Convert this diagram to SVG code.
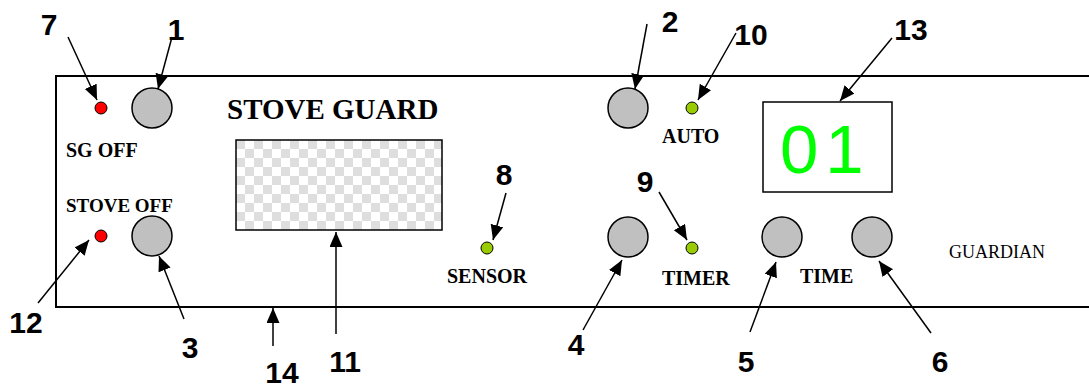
<svg xmlns="http://www.w3.org/2000/svg" width="1089" height="389" viewBox="0 0 1089 389">
<style>
.num{font-family:"Liberation Sans",Arial,sans-serif;font-weight:bold;font-size:30px;fill:#000;text-anchor:middle}
.lbl{font-family:"Liberation Serif","Times New Roman",serif;font-weight:bold;font-size:20px;fill:#000}
.btn{fill:#c0c0c0;stroke:#000;stroke-width:1.5}
.red{fill:#ff0000;stroke:#000;stroke-width:1}
.grn{fill:#99cc00;stroke:#000;stroke-width:1}
.con line{stroke:#000;stroke-width:1.5;marker-end:url(#ah)}
</style>
<defs>
<marker id="ah" markerUnits="userSpaceOnUse" markerWidth="16" markerHeight="14" refX="15" refY="6.5" orient="auto">
<path d="M0,0 L15,6.5 L0,13 z" fill="#000"/>
</marker>
<pattern id="chk" patternUnits="userSpaceOnUse" x="236" y="140" width="18" height="18">
<rect width="18" height="18" fill="#ffffff"/>
<rect width="9" height="9" fill="#dedede"/>
<rect x="9" y="9" width="9" height="9" fill="#dedede"/>
</pattern>
</defs>
<rect width="1089" height="389" fill="#fff"/>
<g id="panel">
<path d="M1089,76 H56 V307 H1089" fill="none" stroke="#000" stroke-width="2"/>
</g>
<g id="title"><text class="lbl" x="227" y="119" style="font-size:29px">STOVE GUARD</text></g>
<g id="n11-screen"><rect x="236" y="140" width="206" height="90" fill="url(#chk)" stroke="#000" stroke-width="1.5"/></g>
<g id="n7-led"><circle class="red" cx="101" cy="108" r="6"/></g>
<g id="n1-button"><circle class="btn" cx="152" cy="108" r="20"/></g>
<g id="sgoff"><text class="lbl" x="66" y="157">SG OFF</text></g>
<g id="stoveoff"><text class="lbl" x="66" y="212" style="font-size:19px">STOVE OFF</text></g>
<g id="n12-led"><circle class="red" cx="101" cy="236" r="6"/></g>
<g id="n3-button"><circle class="btn" cx="152" cy="236" r="20"/></g>
<g id="n8-led"><circle class="grn" cx="487" cy="248" r="6"/><text class="lbl" x="447" y="283">SENSOR</text></g>
<g id="n2-button"><circle class="btn" cx="628" cy="108" r="20"/></g>
<g id="n10-led"><circle class="grn" cx="692" cy="108" r="6"/><text class="lbl" x="662" y="143">AUTO</text></g>
<g id="n4-button"><circle class="btn" cx="628" cy="237" r="20"/></g>
<g id="n9-led"><circle class="grn" cx="692" cy="248" r="6"/><text class="lbl" x="662" y="285">TIMER</text></g>
<g id="n13-display"><rect x="763" y="102" width="129" height="90" fill="#fff" stroke="#000" stroke-width="1.5"/>
<text x="780" y="173" style="font-family:'Liberation Sans',Arial,sans-serif;font-size:69px;letter-spacing:7px" fill="#00ff00">01</text></g>
<g id="n5-button"><circle class="btn" cx="782" cy="237" r="20"/></g>
<g id="n6-button"><circle class="btn" cx="872" cy="237" r="20"/></g>
<g id="time"><text class="lbl" x="800" y="283">TIME</text></g>
<g id="guardian"><text x="949" y="258" style="font-family:'Liberation Serif','Times New Roman',serif;font-size:18px">GUARDIAN</text></g>
<g id="connectors" class="con">
<line x1="68" y1="37" x2="97" y2="100"/>
<line x1="172" y1="37" x2="158" y2="89"/>
<line x1="38" y1="303" x2="89" y2="240"/>
<line x1="184" y1="319" x2="159" y2="256"/>
<line x1="336" y1="334" x2="336" y2="232"/>
<line x1="273" y1="346" x2="273" y2="308"/>
<line x1="647" y1="24" x2="635" y2="89"/>
<line x1="736" y1="33" x2="698" y2="100"/>
<line x1="506" y1="193" x2="493" y2="240"/>
<line x1="659" y1="192" x2="687" y2="240"/>
<line x1="583" y1="330" x2="622" y2="260"/>
<line x1="750" y1="332" x2="776" y2="262"/>
<line x1="892" y1="38" x2="840" y2="101"/>
<line x1="931" y1="333" x2="879" y2="261"/>
</g>
<g id="labels">
<text class="num" x="49" y="35">7</text>
<text class="num" x="176" y="40">1</text>
<text class="num" x="26" y="333">12</text>
<text class="num" x="190" y="358">3</text>
<text class="num" x="282" y="383">14</text>
<text class="num" x="345" y="372">11</text>
<text class="num" x="670" y="32">2</text>
<text class="num" x="751" y="45">10</text>
<text class="num" x="911" y="40">13</text>
<text class="num" x="504" y="185">8</text>
<text class="num" x="645" y="192">9</text>
<text class="num" x="576" y="355">4</text>
<text class="num" x="746" y="372">5</text>
<text class="num" x="940" y="372">6</text>
</g>
</svg>
